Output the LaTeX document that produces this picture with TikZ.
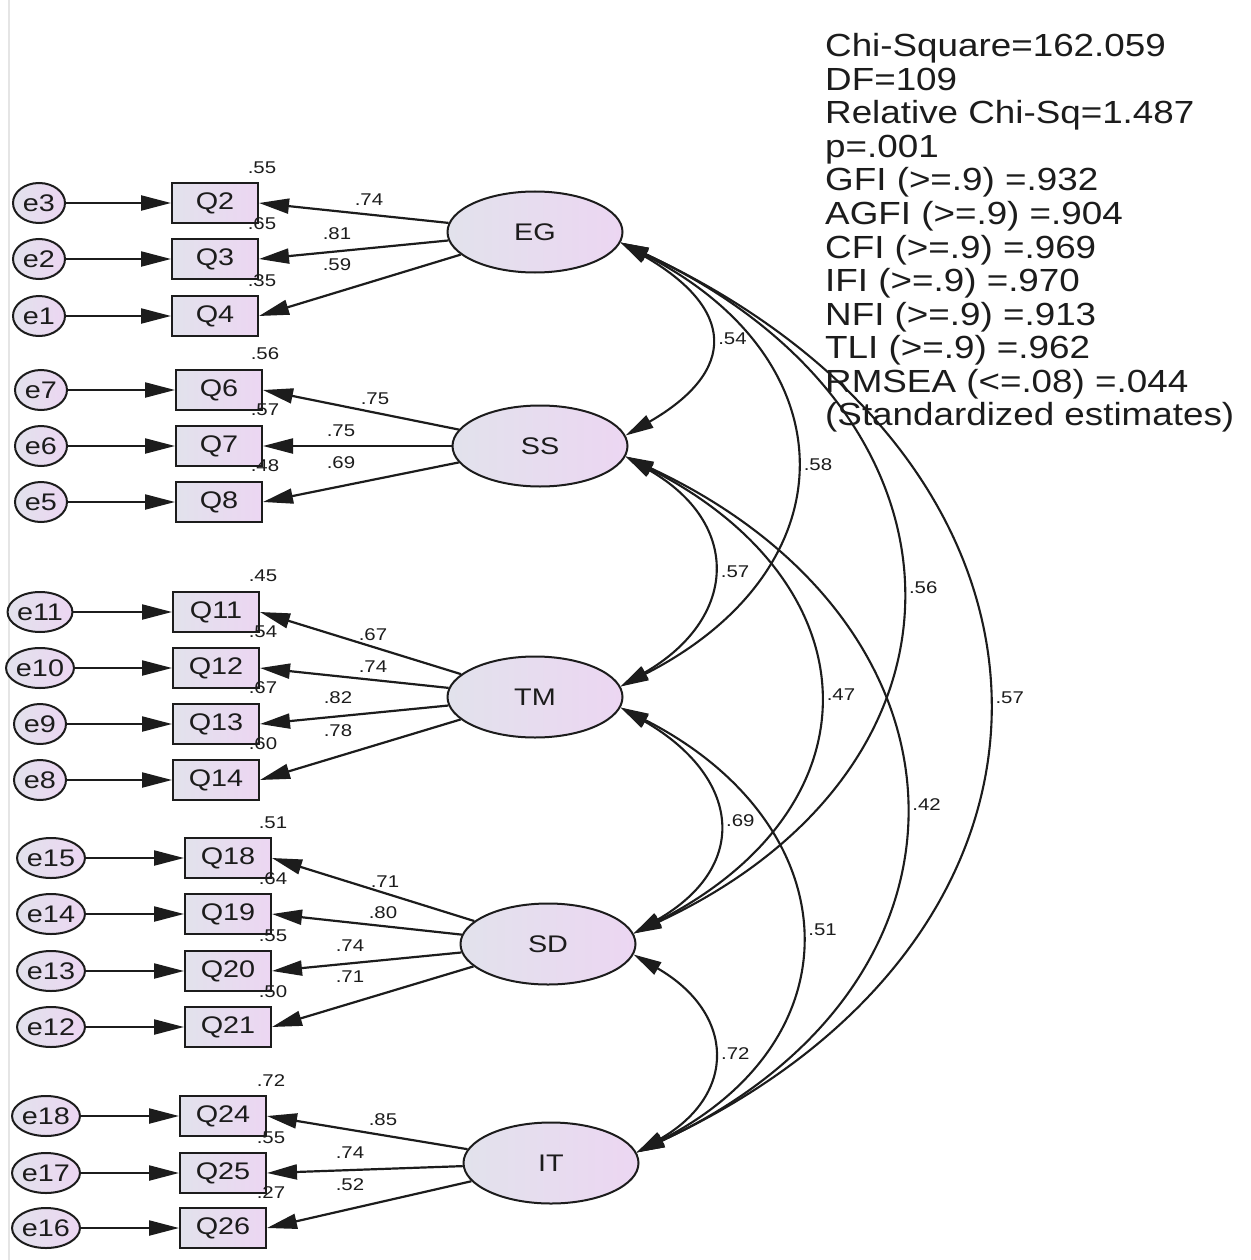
\documentclass[tikz,border=0pt]{standalone}
\usepackage{fontspec}
\setmainfont{Liberation Sans}
\usetikzlibrary{arrows.meta,shapes.geometric}
\definecolor{shL}{RGB}{226,226,236}
\definecolor{shR}{RGB}{236,214,242}
\definecolor{ink}{RGB}{28,28,28}
\newcommand{\sx}[1]{\scalebox{1.2}[1]{#1}}
\begin{document}
\begin{tikzpicture}[x=1pt,y=1pt,
  errnode/.style={ellipse, draw=ink, line width=2pt, left color=shL, right color=shR,
    minimum width=52pt, minimum height=40pt, inner sep=0pt, text=ink, font=\fontsize{24}{24}\selectfont},
  obsnode/.style={rectangle, draw=ink, line width=2pt, left color=shL, right color=shR,
    minimum width=86pt, minimum height=40pt, inner sep=0pt, text=ink, font=\fontsize{24}{24}\selectfont},
  latnode/.style={ellipse, draw=ink, line width=2pt, left color=shL, right color=shR,
    minimum width=175pt, minimum height=81pt, inner sep=0pt, text=ink, font=\fontsize{24}{24}\selectfont},
  arr/.style={-{Triangle[length=30pt,width=15pt]}, line width=2.2pt, draw=ink},
  cov/.style={{Triangle[length=28pt,width=14pt]}-{Triangle[length=28pt,width=14pt]}, line width=2.1pt, draw=ink},
  num/.style={font=\fontsize{17}{17}\selectfont, inner sep=0pt, text=ink},
  covlab/.style={num, midway, anchor=west, xshift=9pt},
  fitline/.style={font=\fontsize{32}{32}\selectfont, inner sep=0pt, anchor=base west, text=ink}
]
\fill[white] (0,0) rectangle (1250,-1260);
\useasboundingbox (0,0) rectangle (1250,-1260);
\draw[black!10, line width=1.5pt] (9,0) -- (9,-1260);

% latent variables
\node[latnode] (EG) at (535,-232) {\sx{EG}};
\node[latnode] (SS) at (540,-446) {\sx{SS}};
\node[latnode] (TM) at (535,-697) {\sx{TM}};
\node[latnode] (SD) at (548,-944) {\sx{SD}};
\node[latnode] (IT) at (551,-1163) {\sx{IT}};

% group EG
\foreach \e/\q/\y/\r in {e3/Q2/203/.55, e2/Q3/259/.65, e1/Q4/316/.35} {
  \node[errnode] (\e) at (39,-\y) {\sx{\e}};
  \node[obsnode] (\q) at (215,-\y) {\sx{\q}};
  \draw[arr] (\e) -- (\q);
  \draw[arr] (EG) -- (\q.east);
  \node[num] (r\q) at (262,-\y+35) {\sx{\r}};
}
% group SS
\foreach \e/\q/\y/\r in {e7/Q6/390/.56, e6/Q7/446/.57, e5/Q8/502/.48} {
  \node[errnode] (\e) at (41,-\y) {\sx{\e}};
  \node[obsnode] (\q) at (219,-\y) {\sx{\q}};
  \draw[arr] (\e) -- (\q);
  \draw[arr] (SS) -- (\q.east);
  \node[num] (r\q) at (265,-\y+36) {\sx{\r}};
}
% group TM
\foreach \e/\q/\y/\r in {e11/Q11/612/.45, e10/Q12/668/.54, e9/Q13/724/.67, e8/Q14/780/.60} {
  \node[errnode] (\e) at (40,-\y) {\sx{\e}};
  \node[obsnode] (\q) at (216,-\y) {\sx{\q}};
  \draw[arr] (\e) -- (\q);
  \draw[arr] (TM) -- (\q.east);
  \node[num] (r\q) at (263,-\y+36) {\sx{\r}};
}
% group SD
\foreach \e/\q/\y/\r in {e15/Q18/858/.51, e14/Q19/914/.64, e13/Q20/971/.55, e12/Q21/1027/.50} {
  \node[errnode] (\e) at (51,-\y) {\sx{\e}};
  \node[obsnode] (\q) at (228,-\y) {\sx{\q}};
  \draw[arr] (\e) -- (\q);
  \draw[arr] (SD) -- (\q.east);
  \node[num] (r\q) at (273,-\y+35) {\sx{\r}};
}
% group IT
\foreach \e/\q/\y/\r in {e18/Q24/1116/.72, e17/Q25/1173/.55, e16/Q26/1228/.27} {
  \node[errnode] (\e) at (46,-\y) {\sx{\e}};
  \node[obsnode] (\q) at (223,-\y) {\sx{\q}};
  \draw[arr] (\e) -- (\q);
  \draw[arr] (IT) -- (\q.east);
  \node[num] (r\q) at (271,-\y+35) {\sx{\r}};
}

% loading labels
\foreach \n/\x/\y/\v in {a1/369/200/.74, a2/337/234/.81, a3/337/265/.59,
  b1/375/399/.75, b2/341/431/.75, b3/341/463/.69,
  c1/373/635/.67, c2/373/667/.74, c3/338/698/.82, c4/338/731/.78,
  d1/385/882/.71, d2/383/913/.80, d3/350/946/.74, d4/350/977/.71,
  f1/383/1120/.85, f2/350/1153/.74, f3/350/1185/.52} {
  \node[num] (\n) at (\x,-\y) {\sx{\v}};
}

% covariances
\draw[cov] (EG.-7) to[out=-30,in=30,distance=131pt] node[covlab] (k1) {\sx{.54}} (SS.7);
\draw[cov] (EG.-7) to[out=-27,in=27,distance=259pt] node[covlab] (k2) {\sx{.58}} (TM.7);
\draw[cov] (EG.-7) to[out=-25,in=25,distance=400pt] node[covlab] (k3) {\sx{.56}} (SD.7);
\draw[cov] (EG.-7) to[out=-25,in=25,distance=525pt] node[covlab] (k4) {\sx{.57}} (IT.7);
\draw[cov] (SS.-7) to[out=-30,in=30,distance=135pt] node[covlab] (k5) {\sx{.57}} (TM.7);
\draw[cov] (SS.-7) to[out=-27,in=27,distance=280pt] node[covlab] (k6) {\sx{.47}} (SD.7);
\draw[cov] (SS.-7) to[out=-25,in=25,distance=399pt] node[covlab] (k7) {\sx{.42}} (IT.7);
\draw[cov] (TM.-7) to[out=-30,in=30,distance=137pt] node[covlab] (k8) {\sx{.69}} (SD.7);
\draw[cov] (TM.-7) to[out=-27,in=27,distance=254pt] node[covlab] (k9) {\sx{.51}} (IT.7);
\draw[cov] (SD.-7) to[out=-30,in=30,distance=117pt] node[covlab] (k10) {\sx{.72}} (IT.7);

% fit statistics
\foreach \t [count=\i] in {Chi-Square=162.059, DF=109, Relative Chi-Sq=1.487, p=.001,
  GFI (>=.9) =.932, AGFI (>=.9) =.904, CFI (>=.9) =.969, IFI (>=.9) =.970,
  NFI (>=.9) =.913, TLI (>=.9) =.962, RMSEA (<=.08) =.044, (Standardized estimates)} {
  \node[fitline] (fit\i) at (825,{-57-33.5*(\i-1)}) {\scalebox{1.15}[1]{\t}};
}
\end{tikzpicture}
\end{document}
